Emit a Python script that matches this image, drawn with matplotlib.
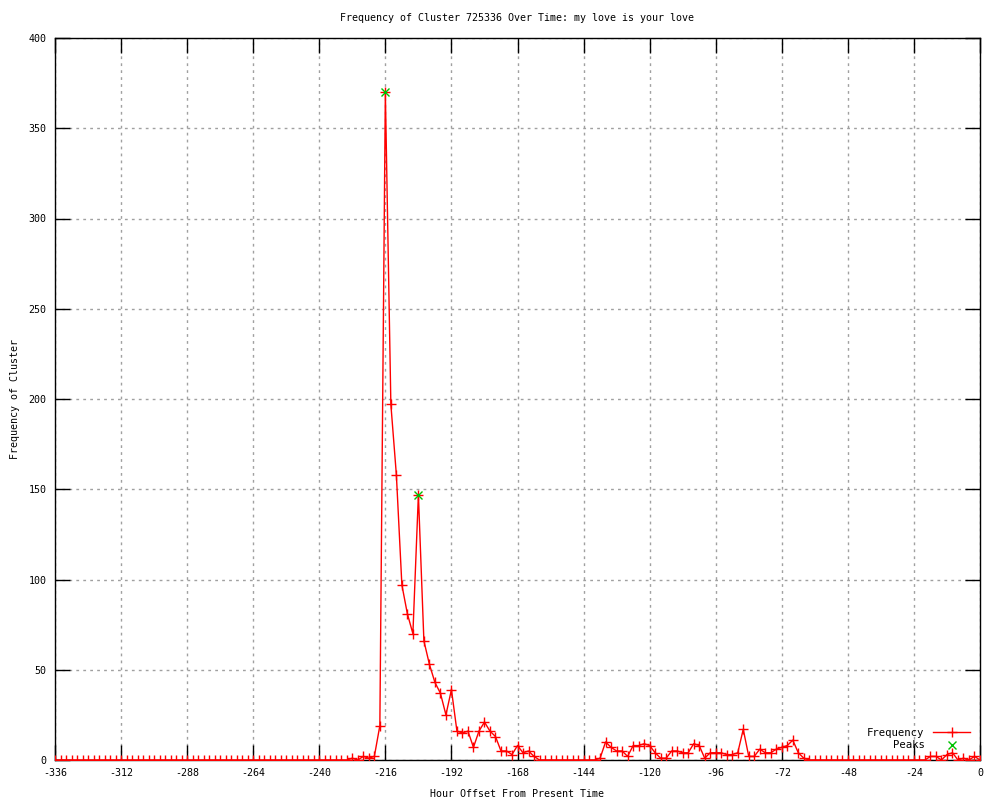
import numpy as np
import matplotlib
matplotlib.use("Agg")
import matplotlib.pyplot as plt

title = "Frequency of Cluster 725336 Over Time: my love is your love"
xlabel = "Hour Offset From Present Time"
ylabel = "Frequency of Cluster"

hours = np.arange(-336, 1, 2)
freq = [
    # -336 .. -230
    0, 0, 0, 0, 0, 0, 0, 0, 0, 0, 0, 0, 0, 0, 0, 0, 0, 0,
    0, 0, 0, 0, 0, 0, 0, 0, 0, 0, 0, 0, 0, 0, 0, 0, 0, 0,
    0, 0, 0, 0, 0, 0, 0, 0, 0, 0, 0, 0, 0, 0, 0, 0, 0, 0,
    # -228 .. -162
    1, 0, 2, 1, 2, 19, 370, 197, 158, 97, 81, 70, 147, 66, 53, 43, 37,
    25, 39, 16, 15, 16, 7, 16, 21, 16, 13, 5, 5, 3, 8, 4, 5, 2,
    # -160 .. -140
    0, 0, 0, 0, 0, 0, 0, 0, 0, 0, 0,
    # -138 .. -64
    1, 10, 7, 5, 5, 2, 8, 8, 9, 8, 4, 1, 1, 5, 5, 4, 4, 9, 8,
    1, 4, 4, 4, 3, 3, 4, 17, 2, 2, 6, 4, 4, 6, 7, 8, 11, 4, 1,
    # -62 .. -20
    0, 0, 0, 0, 0, 0, 0, 0, 0, 0, 0, 0, 0, 0, 0, 0, 0, 0, 0, 0, 0, 0,
    # -18 .. 0
    2, 2, 0, 3, 4, 0, 1, 0, 2, 0,
]

peak_hours = [-216, -204]
peak_values = [370, 147]

xticks = list(range(-336, 1, 24))
yticks = list(range(0, 401, 50))

plt.rcParams['font.family'] = ['DejaVu Sans Mono']
fs = 7.2

fig = plt.figure(figsize=(10, 8), dpi=100)
ax = fig.add_axes([0.055, 0.05, 0.925, 0.9025])

ax.plot(hours, freq, color='#ff0000', linewidth=1.0, marker='+',
        markersize=7, markeredgewidth=1.0, label='Frequency', zorder=3)
ax.plot(peak_hours, peak_values, linestyle='none', color='#00c000',
        marker='x', markersize=5.5, markeredgewidth=1.0, label='Peaks', zorder=4)

ax.set_xlim(-336, 0)
ax.set_ylim(0, 400)
ax.set_xticks(xticks)
ax.set_yticks(yticks)
ax.set_xticklabels([str(t) for t in xticks], fontsize=fs)
ax.set_yticklabels([str(t) for t in yticks], fontsize=fs)
ax.tick_params(direction='in', length=11, width=1, top=True, right=True,
               pad=6, color='black')
ax.grid(True, color='#a0a0a0', linestyle=(0, (2, 3)), linewidth=1.0)
ax.set_axisbelow(True)
for s in ax.spines.values():
    s.set_linewidth(1.0)
    s.set_color('black')

ax.set_title(title, fontsize=fs, pad=12)
ax.set_xlabel(xlabel, fontsize=fs, labelpad=8)
ax.set_ylabel(ylabel, fontsize=fs, labelpad=6)

leg = ax.legend(loc='lower right', frameon=False, markerfirst=False,
                fontsize=fs + 0.5, handlelength=3.5, borderaxespad=0.5,
                labelspacing=0.2, handletextpad=0.8)

fig.savefig('out.png', dpi=100)
